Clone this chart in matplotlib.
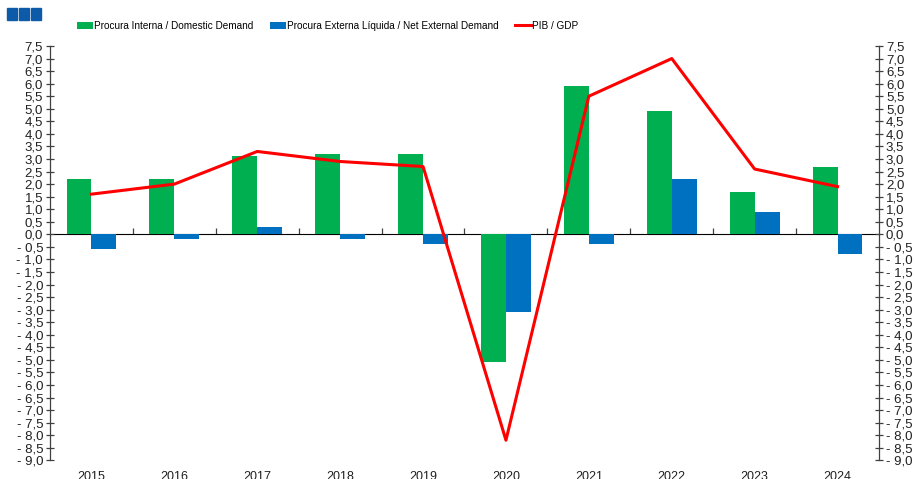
import numpy as np
import matplotlib

matplotlib.use('Agg')
import matplotlib.pyplot as plt
import matplotlib.patches as mpatches

years = ['2015', '2016', '2017', '2018', '2019', '2020', '2021', '2022', '2023', '2024']
domestic = [2.2, 2.2, 3.1, 3.2, 3.2, -5.1, 5.9, 4.9, 1.7, 2.7]
external = [-0.6, -0.2, 0.3, -0.2, -0.4, -3.1, -0.4, 2.2, 0.9, -0.8]
gdp = [1.6, 2.0, 3.3, 2.9, 2.7, -8.2, 5.5, 7.0, 2.6, 1.9]

GREEN = '#00B050'
BLUE = '#0070C0'
RED = '#FF0000'
AXIS = '#404040'

plt.rcParams['font.family'] = ['Liberation Sans', 'DejaVu Sans']


def fmt(v):
    s = '%.1f' % abs(v)
    s = s.replace('.', ',')
    if v < -1e-9:
        return '- ' + s
    return s


fig = plt.figure(figsize=(9.15, 4.79), dpi=100)
ax = fig.add_axes([50 / 915, 1 - 460.3 / 479, 829 / 915, (460.3 - 46) / 479])

x = np.arange(len(years))
w = 0.3
b1 = ax.bar(x - w / 2, domestic, w, color=GREEN, label='Procura Interna / Domestic Demand', zorder=2)
b2 = ax.bar(x + w / 2, external, w, color=BLUE, label='Procura Externa Líquida / Net External Demand', zorder=2)
l1, = ax.plot(x, gdp, color=RED, lw=2.2, label='PIB / GDP', zorder=3)

ymin, ymax = -9.0, 7.5
ax.set_ylim(ymin, ymax)
ax.set_xlim(-0.5, len(years) - 0.5)

yt = np.arange(ymin, ymax + 0.01, 0.5)
ax.set_yticks(yt)
ax.set_yticklabels([fmt(v) for v in yt])
ax.tick_params(axis='y', direction='inout', length=6, width=0.9, color=AXIS,
               labelsize=9.5, pad=2, labelcolor='#202020')

ax.set_xticks(x)
ax.set_xticklabels(years)
ax.tick_params(axis='x', length=0, pad=8, labelsize=9, labelcolor='#202020')

for s in ['top', 'bottom', 'right']:
    ax.spines[s].set_visible(False)
ax.spines['left'].set_color(AXIS)
ax.spines['left'].set_linewidth(0.9)

# zero line with category separators
sec = ax.secondary_xaxis((0 - ymin) / (ymax - ymin))
sec.set_xticks(np.arange(0.5, len(years) - 0.5, 1.0))
sec.set_xticklabels([])
sec.tick_params(length=4, width=0.9, color=AXIS, direction='out')
sec.spines['bottom'].set_color('#707070')
sec.spines['bottom'].set_linewidth(0.9)

ax2 = ax.twinx()
ax2.set_ylim(ymin, ymax)
ax2.set_yticks(yt)
ax2.set_yticklabels([fmt(v) for v in yt])
ax2.tick_params(axis='y', direction='inout', length=6, width=0.9, color=AXIS,
                labelsize=9.5, pad=2, labelcolor='#202020')
for s in ['top', 'bottom', 'left']:
    ax2.spines[s].set_visible(False)
ax2.spines['right'].set_color(AXIS)
ax2.spines['right'].set_linewidth(0.9)

fig.legend([b1, b2, l1], [b1.get_label(), b2.get_label(), l1.get_label()],
           loc='center left', bbox_to_anchor=(77 / 915, 1 - 26 / 479),
           ncol=3, frameon=False, fontsize=7.2, handlelength=1.6, handleheight=0.8,
           handletextpad=0.15, columnspacing=1.6, borderpad=0, borderaxespad=0)

# header decoration
for i in range(3):
    fig.patches.append(mpatches.Rectangle(((7 + i * 12) / 915, 1 - 20 / 479), 10 / 915, 12 / 479,
                                          transform=fig.transFigure, color='#0D5BA8'))

fig.savefig('out.png', dpi=100)
